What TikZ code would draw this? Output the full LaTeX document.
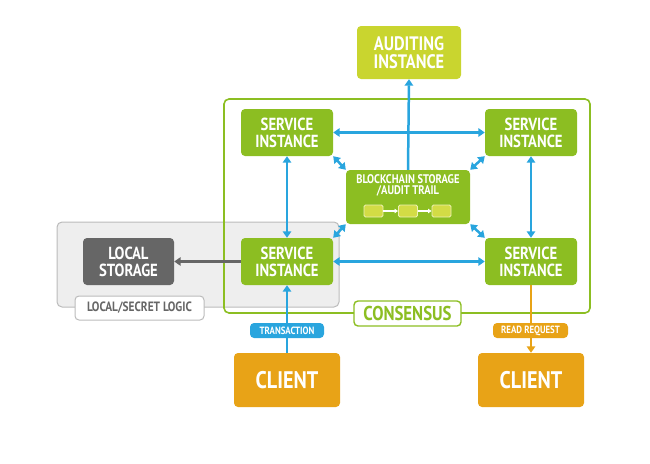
\documentclass[tikz,border=0pt]{standalone}
\usepackage{fontspec}
\setmainfont{PT Sans}[FakeStretch=0.84]
\usetikzlibrary{arrows.meta}
\definecolor{sgreen}{HTML}{8CBE22}
\definecolor{audit}{HTML}{C9D52F}
\definecolor{ablue}{HTML}{29A5DE}
\definecolor{corange}{HTML}{E8A317}
\definecolor{dgray}{HTML}{666666}
\definecolor{lgfill}{HTML}{EEEEEE}
\definecolor{lgline}{HTML}{BBBBBB}
\definecolor{blk}{HTML}{D3DC45}
\tikzset{
  box/.style={rectangle, rounded corners=4pt, text=white, align=center, inner sep=0pt},
  svc/.style={box, fill=sgreen, minimum width=92pt, minimum height=47pt, font=\fontsize{17.5}{17}\selectfont\bfseries},
  cli/.style={box, fill=corange, minimum width=106pt, minimum height=54pt, font=\fontsize{24}{26}\selectfont\bfseries},
  tag/.style={box, minimum height=15pt, font=\fontsize{10.5}{10.5}\selectfont\bfseries},
  blue arrow/.style={draw=ablue, line width=2.5pt, {Triangle[width=8.5pt,length=6.5pt]}-{Triangle[width=8.5pt,length=6.5pt]}},
  one arrow/.style={line width=2.5pt, -{Triangle[width=8.5pt,length=6.5pt]}},
  blkbox/.style={rectangle, rounded corners=1.5pt, fill=blk, draw=white!60!blk, line width=0.9pt, minimum width=19pt, minimum height=12pt, inner sep=0pt},
  mini arrow/.style={white, line width=1.2pt, -{Triangle[width=4.5pt,length=3.5pt]}},
}
\begin{document}
\begin{tikzpicture}[x=1pt,y=-1pt]
\useasboundingbox (0,0) rectangle (650,463);
% local region
\draw[lgline, fill=lgfill, line width=1pt, rounded corners=5pt] (57,222) rectangle (339,307);
% consensus frame
\draw[sgreen, line width=1.6pt, rounded corners=5pt] (224,99) rectangle (590,313);
% nodes
\node[box, fill=audit, minimum width=104pt, minimum height=53pt, font=\fontsize{19.5}{18}\selectfont\bfseries] (aud) at (409,52.5) {AUDITING\\INSTANCE};
\node[svc] (tl) at (287,132.5) {SERVICE\\INSTANCE};
\node[svc] (tr) at (531,132.5) {SERVICE\\INSTANCE};
\node[svc] (bl) at (287,261.5) {SERVICE\\INSTANCE};
\node[svc] (br) at (531,261.5) {SERVICE\\INSTANCE};
\node[box, fill=dgray, minimum width=91pt, minimum height=47pt, font=\fontsize{17.5}{17}\selectfont\bfseries] (ls) at (128.5,261.5) {LOCAL\\STORAGE};
\node[box, fill=sgreen, minimum width=124pt, minimum height=54pt] (bc) at (408,197) {};
\node[text=white, align=center, font=\fontsize{12.5}{11.5}\selectfont\bfseries] (bct) at (408,185.5) {BLOCKCHAIN STORAGE\\/AUDIT TRAIL};
\node[blkbox] (b1) at (373.5,211) {};
\node[blkbox] (b2) at (408,211) {};
\node[blkbox] (b3) at (441.5,211) {};
\draw[mini arrow] (b1.east) -- (b2.west);
\draw[mini arrow] (b2.east) -- (b3.west);
\node[cli] (cl) at (287,380) {CLIENT};
\node[cli] (cr) at (531,380) {CLIENT};
% labels
\node[box, fill=white, draw=sgreen, line width=1.4pt, text=sgreen, minimum width=107pt, minimum height=25pt, font=\fontsize{20}{20}\selectfont\bfseries] (cons) at (407.5,313.5) {CONSENSUS};
\node[box, fill=white, draw=lgline, line width=1pt, text=dgray, minimum width=129pt, minimum height=24pt, font=\fontsize{13.5}{13.5}\selectfont\bfseries] (llog) at (139.5,308) {LOCAL/SECRET LOGIC};
% connectors
\coordinate (top) at (bc.north);
\draw[ablue, one arrow] (top) -- (aud.south);
\draw[blue arrow] (tl.east) -- (tr.west);
\draw[blue arrow] (tl.south) -- (bl.north);
\draw[blue arrow] (tr.south) -- (br.north);
\draw[blue arrow] (bl.east) -- (br.west);
\draw[blue arrow] (tl.south east) -- (bc.north west);
\draw[blue arrow] (tr.south west) -- (bc.north east);
\draw[blue arrow] (bl.north east) -- (bc.south west);
\draw[blue arrow] (br.north west) -- (bc.south east);
\draw[dgray, one arrow] (bl.west) -- (ls.east);
\draw[ablue, one arrow] (cl.north) -- (bl.south);
\draw[corange, one arrow] (br.south) -- (cr.north);
\node[tag, fill=ablue, minimum width=74pt] (tx) at (287,330.5) {TRANSACTION};
\node[tag, fill=corange, minimum width=75pt] (rr) at (530.5,330.5) {READ REQUEST};
\end{tikzpicture}
\end{document}
